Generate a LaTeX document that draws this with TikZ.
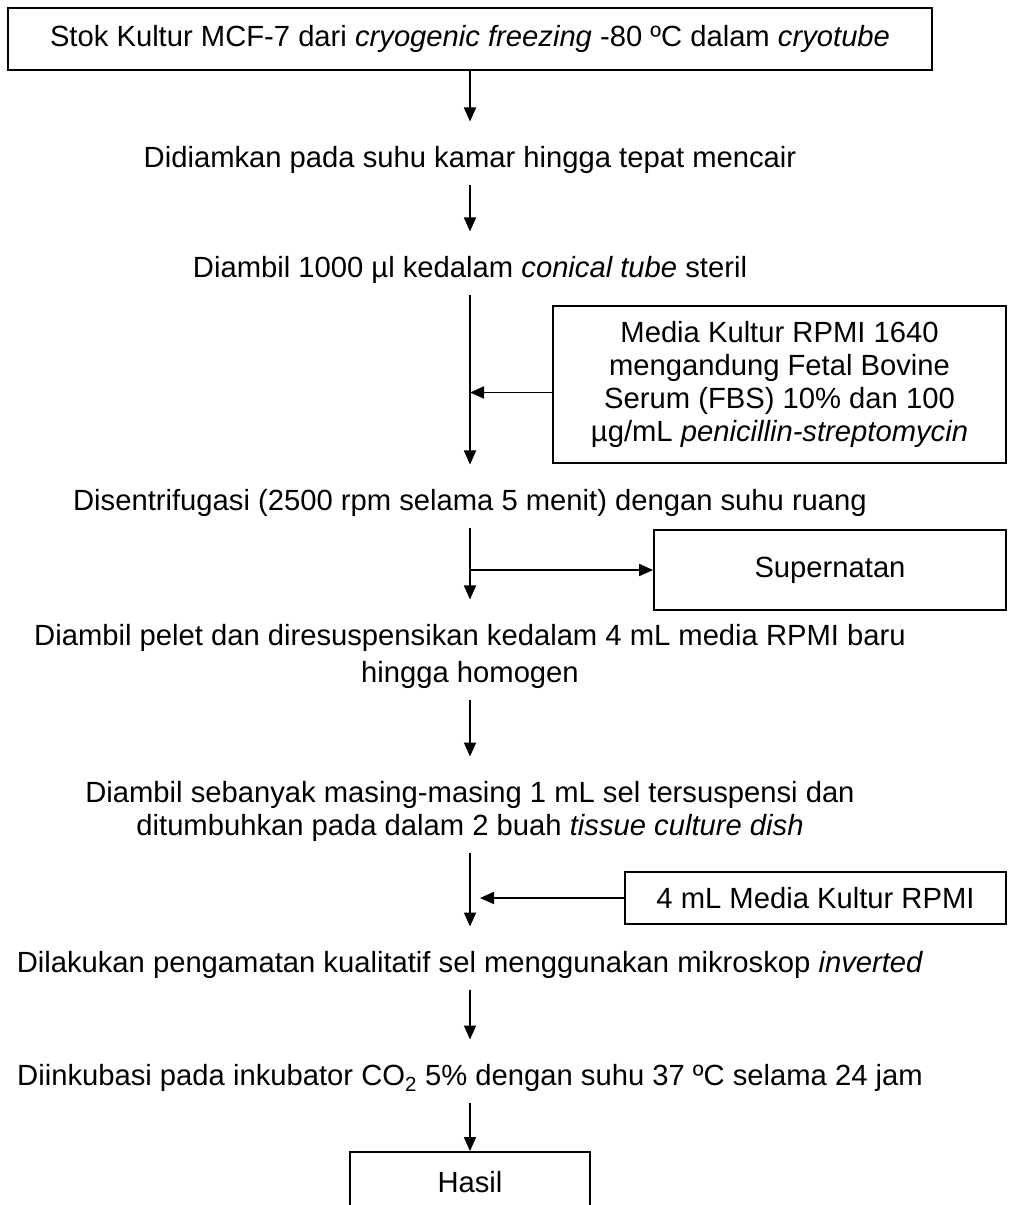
\documentclass[tikz,border=0pt]{standalone}
\usepackage{fontspec}
\setmainfont{Liberation Sans}
\usetikzlibrary{arrows.meta}

\begin{document}
\begin{tikzpicture}[x=1pt,y=-1pt,line width=1.8pt,font=\fontsize{29.2}{33}\selectfont,
    box node/.style={draw,align=center,inner sep=0pt},
    text node/.style={align=center,inner xsep=0pt,inner ysep=10pt},
    arr/.style={-{Triangle[width=12pt,length=14pt]}},
    flow/.style={arr,shorten >=14pt}]
    \fill[white] (0,0) rectangle (1012,1205);
    \useasboundingbox (0,0) rectangle (1012,1205);

    \node[box node,minimum width=924pt,minimum height=62pt] (stok) at (470,39) {Stok Kultur MCF-7 dari \textit{cryogenic freezing} -80 ºC dalam \textit{cryotube}};
    \node[text node] (diam) at (470,160) {Didiamkan pada suhu kamar hingga tepat mencair};
    \node[text node] (ambil) at (470,270) {Diambil 1000 µl kedalam \textit{conical tube} steril};
    \node[box node,minimum width=453pt,minimum height=157pt] (rpmi) at (779.5,384.5) {Media Kultur RPMI 1640\\mengandung Fetal Bovine\\Serum (FBS) 10\% dan 100\\µg/mL \textit{penicillin-streptomycin}};
    \node[text node] (sentri) at (470,503) {Disentrifugasi (2500 rpm selama 5 menit) dengan suhu ruang};
    \node[box node,minimum width=352pt,minimum height=80pt] (super) at (830,570) {Supernatan};
    \node[text node] (pelet) at (470,656.5) {Diambil pelet dan diresuspensikan kedalam 4 mL media RPMI baru\\[4pt]hingga homogen};
    \node[text node] (tumbuh) at (470,811.5) {Diambil sebanyak masing-masing 1 mL sel tersuspensi dan\\ditumbuhkan pada dalam 2 buah \textit{tissue culture dish}};
    \node[box node,minimum width=381pt,minimum height=52pt] (media) at (815.5,898) {4 mL Media Kultur RPMI};
    \node[text node] (amati) at (470,965) {Dilakukan pengamatan kualitatif sel menggunakan mikroskop \textit{inverted}};
    \node[text node] (inkub) at (470,1078) {Diinkubasi pada inkubator CO\textsubscript{2} 5\% dengan suhu 37 ºC selama 24 jam};
    \node[box node,minimum width=240pt,minimum height=60pt] (hasil) at (470,1182) {Hasil};

    \draw[flow] (stok) -- (diam);
    \draw[flow] (diam) -- (ambil);
    \draw[flow] (ambil) -- (sentri);
    \draw[arr] ([yshift=-8pt]rpmi.west) -- ([yshift=-8pt]rpmi.west -| ambil);
    \draw[flow] (sentri) -- (pelet);
    \draw[arr] (super.west -| sentri) -- (super.west);
    \draw[flow] (pelet) -- (tumbuh);
    \draw[flow] (tumbuh) -- (amati);
    \draw[arr,shorten >=10pt] (media.west) -- (media.west -| tumbuh);
    \draw[flow] (amati) -- (inkub);
    \draw[arr] (inkub) -- (hasil);
\end{tikzpicture}
\end{document}
